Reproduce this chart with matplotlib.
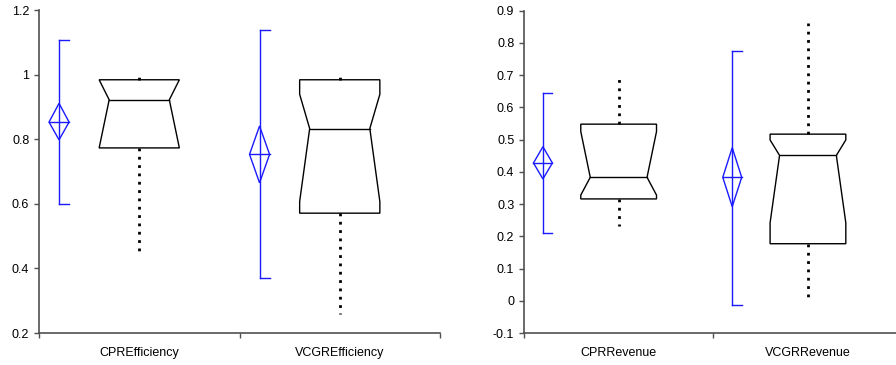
import numpy as np
import matplotlib
matplotlib.use("Agg")
import matplotlib.pyplot as plt
from matplotlib.patches import Polygon

plt.rcParams['font.family'] = ['Liberation Sans', 'DejaVu Sans']

# left panel: efficiency
eff_names = ["CPREfficiency", "VCGREfficiency"]
eff_mean = [0.853, 0.753]
eff_ci_lo = [0.798, 0.665]
eff_ci_hi = [0.911, 0.841]
eff_sd_lo = [0.600, 0.369]
eff_sd_hi = [1.108, 1.138]
eff_min = [0.452, 0.258]
eff_q1 = [0.773, 0.571]
eff_med = [0.922, 0.833]
eff_q3 = [0.984, 0.984]
eff_max = [0.992, 0.992]
eff_notch_lo = [0.773, 0.607]
eff_notch_hi = [0.984, 0.939]
eff_ticks = [0.2, 0.4, 0.6, 0.8, 1.0, 1.2]

# right panel: revenue
rev_names = ["CPRRevenue", "VCGRRevenue"]
rev_mean = [0.4275, 0.383]
rev_ci_lo = [0.378, 0.292]
rev_ci_hi = [0.478, 0.475]
rev_sd_lo = [0.211, -0.013]
rev_sd_hi = [0.645, 0.776]
rev_min = [0.232, 0.0]
rev_q1 = [0.316, 0.177]
rev_med = [0.383, 0.451]
rev_q3 = [0.548, 0.517]
rev_max = [0.690, 0.861]
rev_notch_lo = [0.328, 0.242]
rev_notch_hi = [0.525, 0.499]
rev_ticks = [-0.1, 0, 0.1, 0.2, 0.3, 0.4, 0.5, 0.6, 0.7, 0.8, 0.9]

BLUE = "#1a1aff"
AXC = "#505050"


def draw_panel(ax, names, mean, ci_lo, ci_hi, sd_lo, sd_hi, mn, q1, med, q3, mx,
               n_lo, n_hi, ticks):
    hw = 0.2      # box half width
    ind = 0.05    # notch indent
    dw = 0.05     # diamond half width
    for i in range(len(names)):
        c = i + 1
        # mean diamond and sd bar
        xm = c - 0.4
        ax.plot([xm, xm], [sd_lo[i], sd_hi[i]], color=BLUE, lw=1)
        ax.plot([xm, xm + dw], [sd_hi[i], sd_hi[i]], color=BLUE, lw=1)
        ax.plot([xm, xm + dw], [sd_lo[i], sd_lo[i]], color=BLUE, lw=1)
        ax.add_patch(Polygon([[xm - dw, mean[i]], [xm, ci_hi[i]], [xm + dw, mean[i]],
                              [xm, ci_lo[i]]], closed=True, fill=False,
                             edgecolor=BLUE, lw=1))
        ax.plot([xm - dw, xm + dw], [mean[i], mean[i]], color=BLUE, lw=1)

        # notched box
        pts = [[c - hw, q3[i]], [c - hw, n_hi[i]], [c - hw + ind, med[i]],
               [c - hw, n_lo[i]], [c - hw, q1[i]], [c + hw, q1[i]],
               [c + hw, n_lo[i]], [c + hw - ind, med[i]], [c + hw, n_hi[i]],
               [c + hw, q3[i]]]
        ax.add_patch(Polygon(pts, closed=True, fill=False, edgecolor="black", lw=1))
        ax.plot([c - hw + ind, c + hw - ind], [med[i], med[i]], color="black", lw=1)

        # dotted whiskers
        ax.plot([c, c], [q3[i], mx[i]], color="black", lw=2, ls=(0, (1, 2)))
        ax.plot([c, c], [q1[i], mn[i]], color="black", lw=2, ls=(0, (1, 2)))

    ax.set_xlim(0.5, 2.5)
    ax.set_ylim(ticks[0], ticks[-1])
    ax.set_yticks(ticks)
    ax.set_yticklabels(["{:g}".format(t) for t in ticks])
    ax.set_xticks([0.5, 1.5, 2.5])
    ax.set_xticklabels([])
    ax.set_xticks([1, 2], minor=True)
    ax.set_xticklabels(names, minor=True)
    ax.tick_params(axis="x", which="minor", length=0, pad=10, labelsize=9)
    ax.tick_params(axis="both", which="major", length=3.5, width=1, color=AXC,
                   labelsize=9, direction="out")
    for s in ["top", "right"]:
        ax.spines[s].set_visible(False)
    for s in ["left", "bottom"]:
        ax.spines[s].set_color(AXC)
        ax.spines[s].set_linewidth(1.2)


fig = plt.figure(figsize=(8.96, 3.65), dpi=100)
ax1 = fig.add_axes([39 / 896, 32 / 365, 401 / 896, 323 / 365])
ax2 = fig.add_axes([524 / 896, 32 / 365, 378.6 / 896, 322.3 / 365])

draw_panel(ax1, eff_names, eff_mean, eff_ci_lo, eff_ci_hi, eff_sd_lo, eff_sd_hi,
           eff_min, eff_q1, eff_med, eff_q3, eff_max, eff_notch_lo, eff_notch_hi,
           eff_ticks)
draw_panel(ax2, rev_names, rev_mean, rev_ci_lo, rev_ci_hi, rev_sd_lo, rev_sd_hi,
           rev_min, rev_q1, rev_med, rev_q3, rev_max, rev_notch_lo, rev_notch_hi,
           rev_ticks)

fig.savefig("out.png", dpi=100)
